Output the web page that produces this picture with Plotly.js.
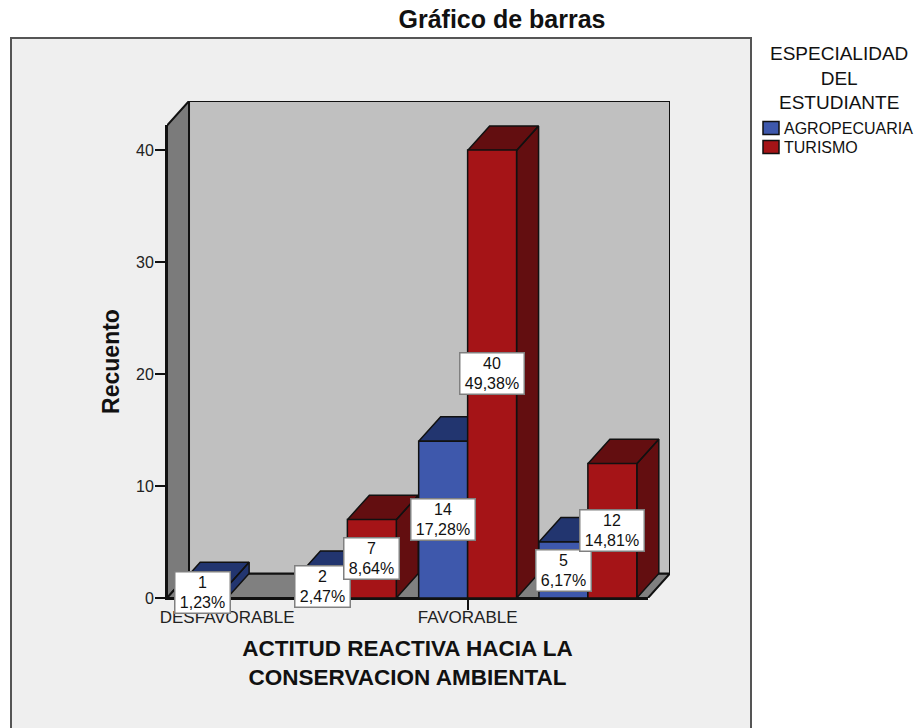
<!DOCTYPE html>
<html><head><meta charset="utf-8">
<script src="https://cdn.plot.ly/plotly-3.0.1.min.js"></script>
<style>html,body{margin:0;padding:0;background:#fff}</style></head>
<body><div id="chart" style="width:920px;height:728px"></div>
<script>
const categoryIndex = [0, 1, 2, 3];
const tickPositions = [0, 2];
const tickLabels = ['DESFAVORABLE', 'FAVORABLE'];
const agropecuaria = [1, 2, 14, 5];
const turismo = [null, 7, 40, 12];
const agroPct = ['1,23%', '2,47%', '17,28%', '6,17%'];
const turPct = ['', '8,64%', '49,38%', '14,81%'];
const yTicks = [0, 10, 20, 30, 40];
const legendHeading = ['ESPECIALIDAD', 'DEL', 'ESTUDIANTE'];

const BAR_W = 0.407, DX = 0.183, DY = 2.19;
const XR = [-0.5, 3.5], YR = [0, 42.23];
const XR_BOX = [XR[0], XR[1] + DX], YR_BOX = [0, YR[1] + DY];
const L = 167, R = 670, T = 101, B = 598, FRONT_R = 648, FRONT_T = 125;
const font = 'Liberation Sans, Arial, sans-serif';
const INK = '#111111';

function depthFaces(values, offset) {
  const xs = [], ys = [];
  categoryIndex.forEach((c, i) => {
    const v = values[i];
    if (v == null) return;
    const a = c + offset, b = a + BAR_W;
    xs.push(a, b, b + DX, a + DX, a, null);
    ys.push(v, v, v + DY, v + DY, v, null);
    xs.push(b, b + DX, b + DX, b, b, null);
    ys.push(0, DY, v + DY, v, 0, null);
  });
  return {x: xs, y: ys};
}
function poly(x, y, fill, w) {
  return {x, y, type: 'scatter', mode: 'lines', fill: 'toself', fillcolor: fill,
    line: {color: INK, width: w || 2}, showlegend: false, hoverinfo: 'skip', xaxis: 'x', yaxis: 'y'};
}
const topY = YR[1], endX = XR[1];
const traces = [
  poly([XR[0], XR[0], XR[0] + DX, XR[0] + DX, XR[0]], [0, topY, topY + DY, DY, 0], '#7b7b7b'),
  poly([XR[0], XR[0] + DX, endX + DX, endX, XR[0]], [0, DY, DY, 0, 0], '#808080'),
  poly([XR[0] + DX, XR[0] + DX, endX + DX, endX + DX, XR[0] + DX], [DY, topY + DY, topY + DY, DY, DY], '#c0c0c0'),
];
const fb = depthFaces(agropecuaria, -BAR_W), fr = depthFaces(turismo, 0);
traces.push(poly(fb.x, fb.y, '#22356f', 1.5));
traces.push(poly(fr.x, fr.y, '#630e10', 1.5));
traces.push({type: 'bar', name: 'AGROPECUARIA', x: categoryIndex, y: agropecuaria, xaxis: 'x2', yaxis: 'y2', legend: 'legend',
  marker: {color: '#3e58ac', line: {color: INK, width: 1.5}}, hoverinfo: 'skip'});
traces.push({type: 'bar', name: 'TURISMO', x: categoryIndex, y: turismo, xaxis: 'x2', yaxis: 'y2', legend: 'legend2',
  marker: {color: '#a51417', line: {color: INK, width: 1.5}}, hoverinfo: 'skip'});

function labels(values, pct, offset) {
  return categoryIndex.filter(i => values[i] != null).map(i => ({
    x: i + offset, y: values[i] / 2, xref: 'x2', yref: 'y2', showarrow: false,
    text: values[i] + '<br>' + pct[i], align: 'center',
    width: pct[i].length > 5 ? 61 : 52, height: 38,
    font: {family: font, size: 16, color: '#111'},
    bgcolor: '#ffffff', bordercolor: '#808080', borderwidth: 1.5, borderpad: 1
  }));
}
const pxX = p => (p - L) / (R - L), pxY = p => (B - p) / (B - T);
const heading = [{
  text: legendHeading.join('<br>'), xref: 'paper', yref: 'paper', x: pxX(839), y: pxY(78), showarrow: false,
  xanchor: 'center', yanchor: 'middle', align: 'center', font: {family: font, size: 19, color: '#111'}
}];
const legendBase = () => ({x: pxX(744), xanchor: 'left', yanchor: 'top', bgcolor: 'rgba(0,0,0,0)',
  font: {size: 16, family: font, color: '#111'}, itemclick: false, itemdoubleclick: false});
const layout = {
  width: 920, height: 728, showlegend: true,
  paper_bgcolor: '#ffffff', plot_bgcolor: 'rgba(0,0,0,0)',
  margin: {l: L, r: 920 - R, t: T, b: 728 - B, autoexpand: false},
  font: {family: font, color: '#111'},
  title: {text: '<b>Gráfico de barras</b>', x: 502 / 920, xref: 'container', xanchor: 'center',
    y: 1 - 19 / 728, yref: 'container', yanchor: 'middle', font: {size: 25, family: font, color: '#111'}},
  barmode: 'group', bargap: 0.186, bargroupgap: 0,
  xaxis: {domain: [0, 1], range: XR_BOX, visible: false},
  yaxis: {domain: [0, 1], range: YR_BOX, visible: false},
  xaxis2: {domain: [0, (FRONT_R - L) / (R - L)], anchor: 'y2', range: XR, tickvals: tickPositions, ticktext: tickLabels,
    ticks: 'outside', ticklen: 10, tickwidth: 1.5, ticklabelstandoff: -7,
    tickcolor: INK, showgrid: false, zeroline: false, showline: true, linecolor: INK, linewidth: 2,
    tickfont: {size: 17, family: font, color: '#222'},
    title: {text: '<b>ACTITUD REACTIVA HACIA LA<br>CONSERVACION AMBIENTAL</b>', standoff: 14,
      font: {size: 22.5, family: font, color: '#111'}}},
  yaxis2: {domain: [0, (B - FRONT_T) / (B - T)], anchor: 'x2', range: YR, tickvals: yTicks, ticks: 'outside', ticklen: 10,
    tickwidth: 1.5, tickcolor: INK, ticklabelstandoff: -2,
    showgrid: false, zeroline: false, showline: true, linecolor: INK, linewidth: 2,
    tickfont: {size: 16, family: font, color: '#222'},
    title: {text: '<b>Recuento</b>', standoff: 10, font: {size: 23, family: font, color: '#111'}}},
  legend: Object.assign(legendBase(), {y: pxY(111)}),
  legend2: Object.assign(legendBase(), {y: pxY(130)}),
  shapes: [{type: 'rect', xref: 'paper', yref: 'paper', layer: 'below',
    x0: pxX(11), x1: pxX(751), y0: pxY(740), y1: pxY(38),
    fillcolor: '#efefef', line: {color: '#555555', width: 2}}],
  annotations: labels(agropecuaria, agroPct, -BAR_W / 2).concat(labels(turismo, turPct, BAR_W / 2)).concat(heading)
};
Plotly.newPlot('chart', traces, layout, {displayModeBar: false}).then(gd => {
  gd.querySelectorAll('.legendpoints path').forEach(p => {
    p.setAttribute('d', 'M-8,-6.5H8V6.5H-8Z');
    p.setAttribute('transform', 'translate(27,0)');
  });
});
</script></body></html>
